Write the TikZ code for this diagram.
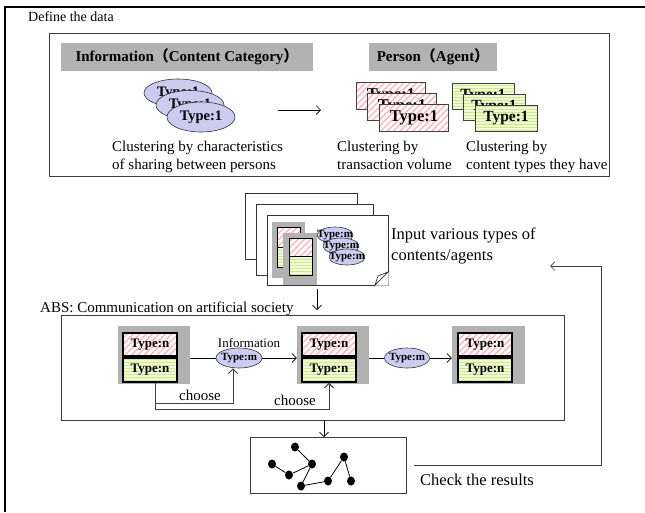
\documentclass[tikz,border=0pt]{standalone}
\usepackage{fontspec}
\setmainfont{Liberation Serif}
\newfontfamily\cjk{Noto Sans CJK SC}
\usetikzlibrary{patterns.meta,arrows.meta,shapes.geometric,calc}
\definecolor{lav}{RGB}{204,204,240}
\definecolor{hgray}{RGB}{178,178,178}
\definecolor{pinkln}{RGB}{255,180,192}
\definecolor{grnbg}{RGB}{242,250,212}
\definecolor{grnln}{RGB}{205,230,140}
\definecolor{frm}{RGB}{60,60,60}
\newcommand{\fsz}[1]{\fontsize{#1}{#1}\selectfont}
\begin{document}
\begin{tikzpicture}[x=1pt,y=-1pt,
  txt/.style={inner sep=0pt, font=\fontsize{15}{18}\selectfont, align=left},
  pinkbox/.style={draw=black!75, line width=0.6pt, preaction={fill=white},
    pattern={Lines[angle=45,distance=4.5pt,line width=1.4pt]}, pattern color=pinkln},
  greenbox/.style={draw=black!75, line width=0.6pt, preaction={fill=grnbg},
    pattern={Lines[angle=0,distance=3pt,line width=1pt]}, pattern color=grnln},
  ell/.style={ellipse, draw=black!80, fill=lav, inner sep=0pt, line width=0.6pt},
  lbl/.style={inner sep=0pt, font=\bfseries\fsz{11}},
  stk/.style={minimum width=69pt, minimum height=27pt, inner sep=0pt, font=\bfseries\fsz{16.5}},
  gstk/.style={minimum width=62pt, minimum height=26pt, inner sep=0pt, font=\bfseries\fsz{15.5}},
  hdr/.style={fill=hgray, minimum height=28pt, inner sep=0pt, font=\bfseries\fsz{15}},
  frame/.style={draw=frm, line width=1.2pt, inner sep=0pt, anchor=north west},
  page/.style={draw=black!80, fill=white, line width=0.7pt, inner sep=0pt, anchor=north west},
  gbg/.style={fill=hgray, inner sep=0pt},
  tbox/.style={draw=black, line width=1.2pt, minimum width=54pt, inner sep=0pt, font=\bfseries\fsz{13}},
  sbox/.style={draw=black, line width=1pt, minimum width=23pt, inner sep=0pt, anchor=north west},
  arr/.style={-{Straight Barb[length=4.5pt,width=9pt]}, line width=0.7pt},
  ln/.style={line width=0.7pt},
  chs/.style={-{Straight Barb[length=4.5pt,width=9pt]}, line width=1pt, draw=black!75},
  dot/.style={ellipse, fill=black, minimum width=8pt, minimum height=9pt, inner sep=0pt}]
\useasboundingbox (0,0) rectangle (645,512);
\draw[line width=1.6pt] (645,7) -- (5,7) -- (5,512);

% ---------- Define the data ----------
\node[txt, font=\fsz{14}, anchor=base west] (def) at (28,21) {Define the data};
\node[frame, minimum width=560pt, minimum height=143pt] (defbox) at (49,33) {};
\node[hdr, minimum width=252pt] (hinfo) at (187,57) {Information{\cjk （}Content Category{\cjk ）}};
\node[hdr, minimum width=128pt] (hpers) at (433,57) {Person{\cjk （}Agent{\cjk ）}};

\node[ell, minimum width=68pt, minimum height=28pt, font=\bfseries\fsz{14.5}] (ie1) at (178,93) {Type:1};
\node[ell, minimum width=68pt, minimum height=29pt, font=\bfseries\fsz{14.5}] (ie2) at (190,105) {Type:1};
\node[ell, minimum width=68pt, minimum height=30pt, font=\bfseries\fsz{14.5}] (ie3) at (201,117) {Type:1};

\coordinate (ta) at (278,110);
\coordinate (tb) at (321,110);
\draw[arr] (ta) -- (tb);

\node[pinkbox, stk] (pk1) at (391,96) {Type:1};
\node[pinkbox, stk] (pk2) at (402,107) {Type:1};
\node[pinkbox, stk] (pk3) at (414,118) {Type:1};
\node[greenbox, gstk] (gr1) at (483,96) {Type:1};
\node[greenbox, gstk] (gr2) at (494,107) {Type:1};
\node[greenbox, gstk] (gr3) at (506,118) {Type:1};

\node[txt, anchor=north west] (cl1) at (112,141) {Clustering by characteristics\\of sharing between persons};
\node[txt, anchor=north west] (cl2) at (337,141) {Clustering by\\transaction volume};
\node[txt, anchor=north west] (cl3) at (466,141) {Clustering by\\content types they have};

% ---------- input pages ----------
\node[page, minimum width=112pt, minimum height=66pt] (pg1) at (245,193) {};
\node[page, minimum width=117pt, minimum height=71pt] (pg2) at (256,204) {};
\node[page, minimum width=121pt, minimum height=70pt] (pg3) at (267,215) {};
\fill[white] (375,285.5) -- (388.5,285.5) -- (388.5,272) -- cycle;
\draw[black!80, line width=0.7pt, fill=white] (375,285) -- (378,276) -- (388,272) -- cycle;

\node[gbg, minimum width=33pt, minimum height=56pt, anchor=north west] (pga) at (272,222) {};
\node[sbox, pinkbox, draw=black, line width=1pt, minimum height=20pt] (pgap) at (277,227) {};
\node[sbox, greenbox, draw=black, line width=1pt, minimum height=20pt] (pgag) at (277,247) {};
\node[gbg, minimum width=34pt, minimum height=52pt, anchor=north west] (pgb) at (283,233) {};
\node[sbox, pinkbox, draw=black, line width=1pt, minimum height=18pt] (pgbp) at (289,238) {};
\node[sbox, greenbox, draw=black, line width=1pt, minimum height=19pt] (pgbg) at (289,256) {};

\node[ell, minimum width=36pt, minimum height=16pt, label={[lbl]center:Type:m}] (pm1) at (335,235) {};
\node[ell, minimum width=36pt, minimum height=16pt, label={[lbl]center:Type:m}] (pm2) at (341,246) {};
\node[ell, minimum width=36pt, minimum height=16pt, label={[lbl]center:Type:m}] (pm3) at (347,257) {};

\node[txt, font=\fontsize{16.5}{21}\selectfont, anchor=north west] (inp) at (391,228) {Input various types of\\contents/agents};

% ---------- ABS ----------
\node[txt, anchor=base west] (abstxt) at (40,312) {ABS: Communication on artificial society};
\node[frame, minimum width=503pt, minimum height=105pt] (abs) at (61,315) {};

\node[gbg, minimum width=72pt, minimum height=58pt] (g1) at (154,355) {};
\node[tbox, pinkbox, draw=black, line width=1.2pt, minimum height=23pt] (p1) at (150,344.5) {Type:n};
\node[tbox, greenbox, draw=black, line width=1.2pt, minimum height=24pt] (n1) at (150,370) {Type:n};
\node[gbg, minimum width=72pt, minimum height=58pt] (g2) at (333,355) {};
\node[tbox, pinkbox, draw=black, line width=1.2pt, minimum height=23pt] (p2) at (329,344.5) {Type:n};
\node[tbox, greenbox, draw=black, line width=1.2pt, minimum height=24pt] (n2) at (329,370) {Type:n};
\node[gbg, minimum width=73pt, minimum height=58pt] (g3) at (488.5,355) {};
\node[tbox, pinkbox, draw=black, line width=1.2pt, minimum height=23pt] (p3) at (485,344.5) {Type:n};
\node[tbox, greenbox, draw=black, line width=1.2pt, minimum height=24pt] (n3) at (485,370) {Type:n};

\node[ell, minimum width=46pt, minimum height=20pt, label={[lbl]center:Type:m}] (e1) at (239,358) {};
\node[ell, minimum width=45pt, minimum height=20pt, label={[lbl]center:Type:m}] (e2) at (407,358) {};
\node[txt, font=\fsz{13}] (inf) at (249,343) {Information};

\draw[ln] (g1.east |- e1.west) -- (e1.west);
\draw[arr] (e1.east) -- (g2.west |- e1.east);
\draw[ln] (g2.east |- e2.west) -- (e2.west);
\draw[arr] (e2.east) -- (g3.west |- e2.east);

\coordinate (c0) at ($(n1.south)+(5,0)$);
\draw[chs] (c0) -- ++(0,21) -| ($(e1.south)+(-6,0)$);
\draw[chs] (c0) -- ++(0,27) -| (n2.south);
\node[txt] (ch1) at (200,395) {choose};
\node[txt] (ch2) at (295,400) {choose};

\draw[arr] ($(pg3.south -| 317,0)+(0,3)$) -- ($(abs.north -| 317,0)+(0,-5)$);

% ---------- results ----------
\node[frame, minimum width=156pt, minimum height=56pt] (res) at (250,437) {};
\draw[arr] (abs.south -| 324,0) -- (res.north -| 324,0);

\node[dot] (d1) at (295,447) {};
\node[dot] (d2) at (272,464) {};
\node[dot] (d3) at (289,475) {};
\node[dot] (d4) at (312,464) {};
\node[dot] (d5) at (301,486) {};
\node[dot] (d6) at (328,481) {};
\node[dot] (d7) at (344,457) {};
\node[dot] (d8) at (351,481) {};
\draw[line width=0.8pt] (d1)--(d4) (d2)--(d3) (d3)--(d4) (d4)--(d5) (d5)--(d6) (d6)--(d7) (d7)--(d8);

\node[txt, font=\fsz{16.5}, anchor=base west] (chk) at (420,485) {Check the results};

\coordinate (fbr) at (601,266);
\coordinate (fbtip) at (550,266);
\draw[arr, draw=frm] ($(res.east)+(7,0)$) -| (fbr) -- (fbtip);
\end{tikzpicture}
\end{document}
